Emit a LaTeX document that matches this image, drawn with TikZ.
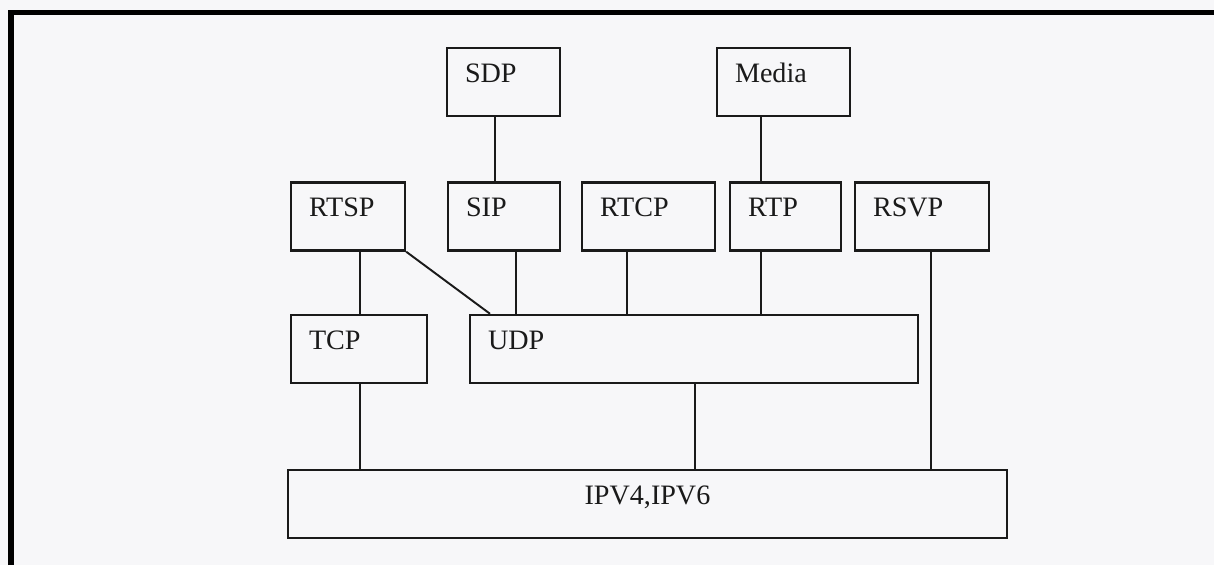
\documentclass[tikz,border=0pt]{standalone}
\usepackage{fontspec}
\setmainfont{Liberation Serif}
\usetikzlibrary{positioning}
\definecolor{Ink}{HTML}{1A1A1A}
\definecolor{Paper}{HTML}{F7F7F9}
\begin{document}
\begin{tikzpicture}[
            x=0.02cm, y=-0.02cm,
            box/.style={rectangle, draw=Ink, line width=1.4pt, minimum height=1.36cm, inner ysep=0pt, inner xsep=0.36cm, align=left, text height=11pt, text depth=11pt, font=\fontsize{16}{18}\selectfont, text=Ink},
            wide/.style={box, align=center},
            link/.style={draw=Ink, line width=1.1pt},
            frame/.style={draw=black, line width=2.9pt}
        ]
            \fill[Paper] (0,0) rectangle (1214,565);
            \useasboundingbox (0,0) rectangle (1214,565);
            \draw[frame] (11,565) -- (11,12.5) -- (1214,12.5);

            % upper layer
            \node[box, text width=1.54cm] (sdp) at (503.5,82) {SDP};
            \node[box, text width=1.94cm] (media) at (783.5,82) {Media};

            % application layer
            \node[box, text width=1.56cm] (rtsp) at (348,216.5) {RTSP};
            \node[box, text width=1.52cm] (sip) at (504,216.5) {SIP};
            \node[box, text width=1.94cm] (rtcp) at (648.5,216.5) {RTCP};
            \node[box, text width=1.50cm] (rtp) at (785.5,216.5) {RTP};
            \node[box, text width=1.96cm] (rsvp) at (922,216.5) {RSVP};

            % transport layer
            \node[box, text width=2.00cm] (tcp) at (359,349) {TCP};
            \node[box, text width=8.24cm] (udp) at (694,349) {UDP};

            % network layer
            \node[wide, text width=13.66cm] (ip) at (647.5,504) {IPV4,IPV6};

            \draw[link] (sdp.south -| 495,0) -- (sip.north -| 495,0);
            \draw[link] (media.south -| 761,0) -- (rtp.north -| 761,0);
            \draw[link] (rtsp.south -| 360,0) -- (tcp.north -| 360,0);
            \draw[link] (rtsp.south east) -- (udp.north -| 490,0);
            \draw[link] (sip.south -| 516,0) -- (udp.north -| 516,0);
            \draw[link] (rtcp.south -| 627,0) -- (udp.north -| 627,0);
            \draw[link] (rtp.south -| 761,0) -- (udp.north -| 761,0);
            \draw[link] (rsvp.south -| 931,0) -- (ip.north -| 931,0);
            \draw[link] (tcp.south -| 360,0) -- (ip.north -| 360,0);
            \draw[link] (udp.south -| 695,0) -- (ip.north -| 695,0);
        \end{tikzpicture}
\end{document}
